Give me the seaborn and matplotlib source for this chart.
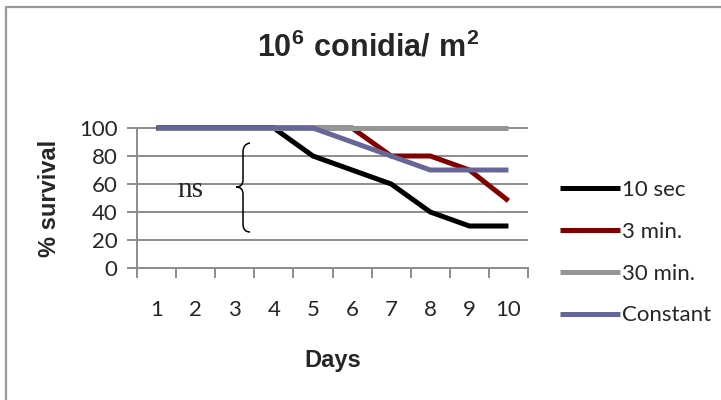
import numpy as np
import pandas as pd
import seaborn as sns
import matplotlib
matplotlib.use("Agg")
import matplotlib.pyplot as plt
from matplotlib.lines import Line2D
from matplotlib.path import Path
from matplotlib.patches import PathPatch

# ---- data ----
days = [1, 2, 3, 4, 5, 6, 7, 8, 9, 10]
series_names = ["10 sec", "3 min.", "30 min.", "Constant"]
sec10 = [100, 100, 100, 100, 80, 70, 60, 40, 30, 30]
min3 = [100, 100, 100, 100, 100, 100, 80, 80, 70, 48]
min30 = [100, 100, 100, 100, 100, 100, 100, 100, 100, 100]
constant = [100, 100, 100, 100, 100, 90, 80, 70, 70, 70]
y_ticks = [0, 20, 40, 60, 80, 100]
colors = ["#000000", "#800000", "#969696", "#666699"]

values = [sec10, min3, min30, constant]
df = pd.DataFrame({
    "Days": np.tile(days, len(series_names)),
    "survival": np.concatenate(values),
    "series": np.repeat(series_names, len(days)),
})
df["pos"] = df["Days"] - 0.5

sns.set_style("white")
plt.rcParams["font.family"] = ["Lato", "DejaVu Sans"]
plt.rcParams["mathtext.fontset"] = "custom"
plt.rcParams["mathtext.bf"] = "Liberation Sans:bold"
plt.rcParams["mathtext.rm"] = "Liberation Sans"

fig = plt.figure(figsize=(7.21, 4.0), dpi=100)
W, H = 721, 400
ax = fig.add_axes([137 / W, 1 - 268 / H, (528 - 137) / W, (268 - 128) / H])

grid_c = "#8c8c8c"
for yv in y_ticks[1:]:
    ax.axhline(yv, color=grid_c, lw=1.4, zorder=1)

sns.lineplot(data=df, x="pos", y="survival", hue="series", hue_order=series_names,
             palette=colors, linewidth=3.6, ax=ax, zorder=3, clip_on=False,
             legend=True, sort=False)
for ln in ax.get_lines():
    ln.set_clip_on(False)
    ln.set_solid_capstyle("butt")
    ln.set_solid_joinstyle("miter")

ax.set_xlim(0, 10)
ax.set_ylim(0, 100)
ax.set_xticks(range(0, 11))
ax.set_xticklabels([])
ax.set_xticks([d - 0.5 for d in days], minor=True)
ax.set_xticklabels([str(d) for d in days], minor=True)
ax.set_yticks(y_ticks)
ax.set_yticklabels([str(v) for v in y_ticks])
ax.tick_params(axis="x", which="major", length=7, width=1.4, color=grid_c, direction="out", bottom=True)
ax.tick_params(axis="x", which="minor", length=0, pad=23, labelsize=16)
ax.tick_params(axis="y", which="major", length=7, width=1.4, color=grid_c, direction="out", left=True, pad=7, labelsize=16)
for s in ["top", "right"]:
    ax.spines[s].set_visible(False)
for s in ["left", "bottom"]:
    ax.spines[s].set_color(grid_c)
    ax.spines[s].set_linewidth(1.4)
ax.set_xlabel("")
ax.set_ylabel("")

# legend
handles, labels = ax.get_legend_handles_labels()
ax.get_legend().remove()
for h in handles:
    h.set_linewidth(3.6)
fig.legend(handles, labels, loc="upper left", bbox_to_anchor=(549 / W, 1 - 169 / H),
           frameon=False, fontsize=16, handlelength=2.7, handletextpad=0.1,
           labelspacing=0.98, borderpad=0)

# titles and labels
fig.text(368 / W, 1 - 46 / H, r"$\mathbf{10}^{\mathbf{6}}\mathbf{\ conidia/\ m}^{\mathbf{2}}$",
         ha="center", va="center", fontsize=22)
fig.text(49 / W, 1 - 198 / H, "% survival", rotation=90, ha="center", va="center",
         fontsize=17, fontweight="bold", family=["Liberation Sans", "DejaVu Sans"])
fig.text(333 / W, 1 - 360 / H, "Days", ha="center", va="center",
         fontsize=17, fontweight="bold", family=["Liberation Sans", "DejaVu Sans"])

# ns annotation with brace
ax.text(1.36, 56, "ns", ha="center", va="center", fontsize=21,
        family=["Liberation Serif", "DejaVu Serif"])
def px(x, y):
    return ((x - 137) / 39.1, (268 - y) / 1.4)
verts = [px(250, 143), px(243, 144), px(243, 152), px(243, 152),
         px(243, 180), px(243, 180), px(243, 187), px(236, 187),
         px(243, 187), px(243, 194), px(243, 194), px(243, 194),
         px(243, 224), px(243, 224), px(243, 232), px(250, 232)]
codes = [Path.MOVETO, Path.CURVE3, Path.CURVE3, Path.LINETO,
         Path.LINETO, Path.LINETO, Path.CURVE3, Path.CURVE3,
         Path.CURVE3, Path.CURVE3, Path.LINETO, Path.LINETO,
         Path.LINETO, Path.LINETO, Path.CURVE3, Path.CURVE3]
ax.add_patch(PathPatch(Path(verts, codes), fill=False, lw=1.1, color="black",
                       clip_on=False, zorder=4))

# chart border (left/top visible)
fig.add_artist(Line2D([6 / W, 6 / W], [0, 1 - 6 / H], transform=fig.transFigure,
                      color="#999999", lw=1.6, solid_capstyle="butt"))
fig.add_artist(Line2D([6 / W, 1], [1 - 6.5 / H, 1 - 6.5 / H], transform=fig.transFigure,
                      color="#999999", lw=1.6, solid_capstyle="butt"))

fig.savefig("out.png", dpi=100)
